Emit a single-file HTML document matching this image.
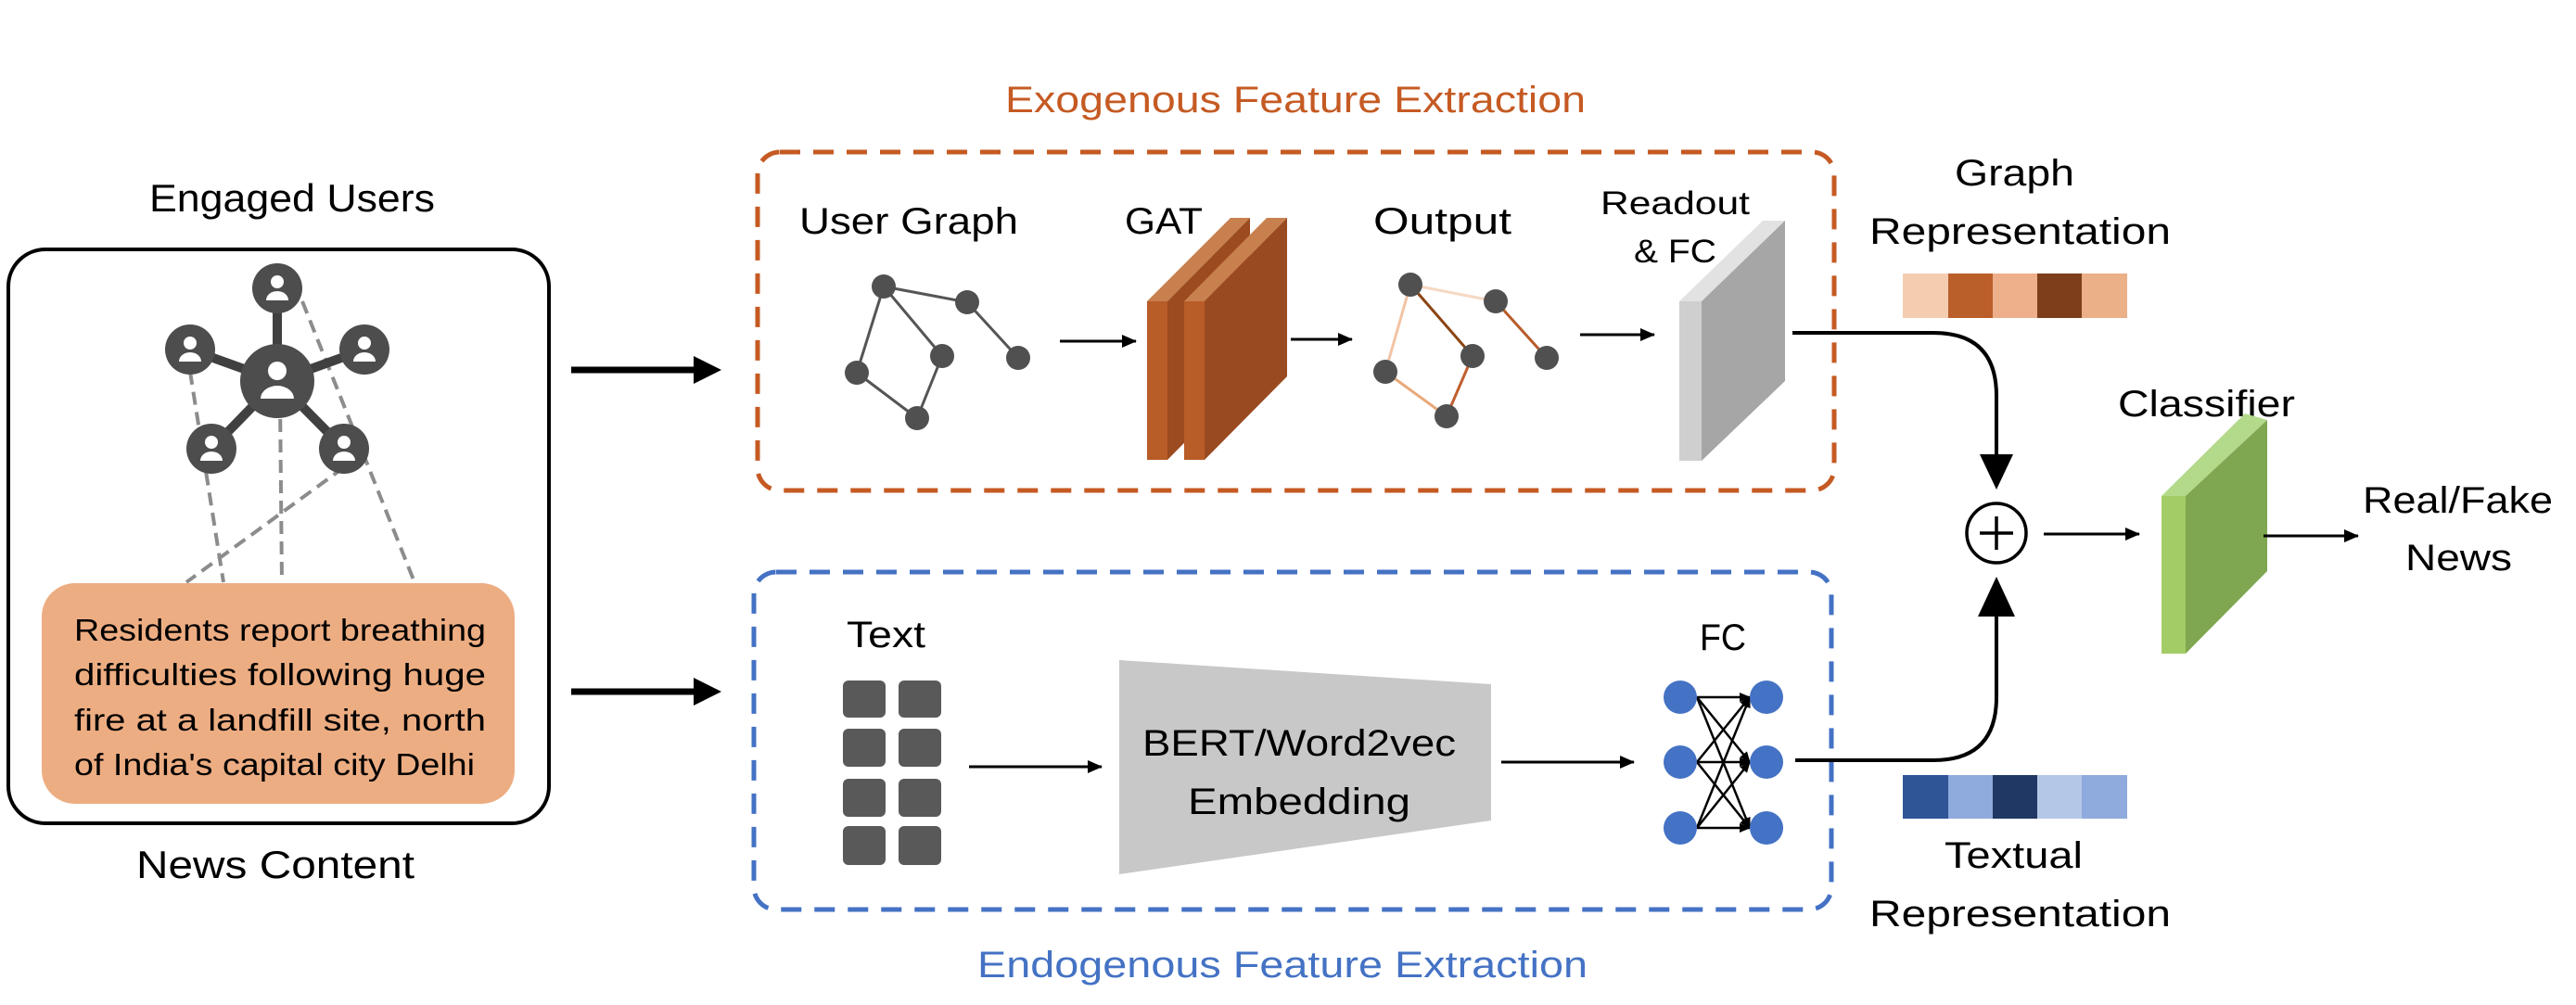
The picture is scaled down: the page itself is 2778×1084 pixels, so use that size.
<!DOCTYPE html>
<html><head><meta charset="utf-8"><style>
html,body{margin:0;padding:0;background:#fff;}
svg{display:block;}
text{font-family:"Liberation Sans",sans-serif;}
</style></head><body>
<svg width="2778" height="1084" viewBox="0 0 2778 1084" xmlns="http://www.w3.org/2000/svg">
<defs>
<marker id="ah" markerWidth="16" markerHeight="14" refX="15" refY="7" orient="auto" markerUnits="userSpaceOnUse" viewBox="0 0 16 14"><path d="M0,0 L16,7 L0,14z" fill="#000"/></marker>
<marker id="ahs" markerWidth="12" markerHeight="10" refX="11" refY="5" orient="auto" markerUnits="userSpaceOnUse" viewBox="0 0 12 10"><path d="M0,0 L12,5 L0,10z" fill="#000"/></marker>
</defs>
<rect width="2778" height="1084" fill="#fff"/>

<text x="1084" y="121" font-size="40" fill="#C55A23" textLength="626" lengthAdjust="spacingAndGlyphs">Exogenous Feature Extraction</text>
<text x="1054" y="1054" font-size="40" fill="#4472C4" textLength="658" lengthAdjust="spacingAndGlyphs">Endogenous Feature Extraction</text>

<text x="161" y="228" font-size="42" textLength="308" lengthAdjust="spacingAndGlyphs">Engaged Users</text>
<rect x="9" y="269" width="583" height="619" rx="40" fill="none" stroke="#000" stroke-width="4"/>
<g stroke="#8c8c8c" stroke-width="4" stroke-dasharray="14,8" fill="none">
<line x1="205" y1="401" x2="241" y2="628"/>
<line x1="302" y1="430" x2="304" y2="628"/>
<line x1="326" y1="325" x2="447" y2="628"/>
<line x1="371" y1="504" x2="201" y2="628"/>
</g>
<g stroke="#404040" stroke-width="10">
<line x1="299" y1="411" x2="299" y2="311"/>
<line x1="299" y1="411" x2="205" y2="377"/>
<line x1="299" y1="411" x2="393" y2="377"/>
<line x1="299" y1="411" x2="228" y2="484"/>
<line x1="299" y1="411" x2="371" y2="484"/>
</g>
<g fill="#4d4d4d">
<circle cx="299" cy="411" r="40"/>
<circle cx="299" cy="311" r="27"/>
<circle cx="205" cy="377" r="27"/>
<circle cx="393" cy="377" r="27"/>
<circle cx="228" cy="484" r="27"/>
<circle cx="371" cy="484" r="27"/>
</g>
<g fill="#fff">
<circle cx="299" cy="400" r="10"/><path d="M281,430 a18,14 0 0 1 36,0z"/>
<circle cx="299" cy="304" r="7"/><path d="M287,324 a12,10 0 0 1 24,0z"/>
<circle cx="205" cy="370" r="7"/><path d="M193,390 a12,10 0 0 1 24,0z"/>
<circle cx="393" cy="370" r="7"/><path d="M381,390 a12,10 0 0 1 24,0z"/>
<circle cx="228" cy="477" r="7"/><path d="M216,497 a12,10 0 0 1 24,0z"/>
<circle cx="371" cy="477" r="7"/><path d="M359,497 a12,10 0 0 1 24,0z"/>
</g>
<rect x="45" y="629" width="510" height="238" rx="36" fill="#EDAD82"/>
<g font-size="33">
<text x="80" y="691" textLength="444" lengthAdjust="spacingAndGlyphs">Residents report breathing</text>
<text x="80" y="739" textLength="444" lengthAdjust="spacingAndGlyphs">difficulties  following  huge</text>
<text x="80" y="788" textLength="444" lengthAdjust="spacingAndGlyphs">fire at a landfill site, north</text>
<text x="80" y="836" textLength="432" lengthAdjust="spacingAndGlyphs">of India's capital city Delhi</text>
</g>
<text x="147" y="947" font-size="42" textLength="300" lengthAdjust="spacingAndGlyphs">News Content</text>

<line x1="616" y1="399" x2="752" y2="399" stroke="#000" stroke-width="7"/>
<path d="M748,384 L778,399 L748,414z" fill="#000"/>
<line x1="616" y1="746" x2="752" y2="746" stroke="#000" stroke-width="7"/>
<path d="M748,731 L778,746 L748,761z" fill="#000"/>

<rect x="817" y="164" width="1161" height="365" rx="24" fill="none" stroke="#C55A23" stroke-width="5" stroke-dasharray="22,14"/>
<rect x="813" y="617" width="1162" height="364" rx="24" fill="none" stroke="#4472C4" stroke-width="5" stroke-dasharray="22,14"/>

<text x="862" y="252" font-size="40" textLength="236" lengthAdjust="spacingAndGlyphs">User Graph</text>
<text x="1213" y="252" font-size="40" textLength="84" lengthAdjust="spacingAndGlyphs">GAT</text>
<g stroke="#555" stroke-width="3">
<line x1="953" y1="309" x2="1043" y2="326"/><line x1="953" y1="309" x2="1016" y2="384"/>
<line x1="1043" y1="326" x2="1098" y2="386"/><line x1="953" y1="309" x2="924" y2="402"/>
<line x1="924" y1="402" x2="989" y2="451"/><line x1="989" y1="451" x2="1016" y2="384"/>
</g>
<g fill="#505050">
<circle cx="953" cy="309" r="13"/><circle cx="1043" cy="326" r="13"/><circle cx="1016" cy="384" r="13"/>
<circle cx="1098" cy="386" r="13"/><circle cx="924" cy="402" r="13"/><circle cx="989" cy="451" r="13"/>
</g>
<line x1="1143" y1="368" x2="1225" y2="368" stroke="#000" stroke-width="3" marker-end="url(#ah)"/>
<path d="M1237,325 L1327,235 L1348,235 L1259,325z" fill="#C8804E"/>
<path d="M1259,325 L1348,235 L1348,406 L1259,496z" fill="#9C4A1F"/>
<rect x="1237" y="325" width="22" height="171" fill="#B85C28"/>
<path d="M1277,325 L1366,235 L1388,235 L1299,325z" fill="#C8804E"/>
<path d="M1299,325 L1388,235 L1388,406 L1299,496z" fill="#9A4A20"/>
<rect x="1277" y="325" width="22" height="171" fill="#B85C28"/>
<line x1="1392" y1="366" x2="1458" y2="366" stroke="#000" stroke-width="3" marker-end="url(#ah)"/>
<text x="1481" y="252" font-size="40" textLength="149" lengthAdjust="spacingAndGlyphs">Output</text>
<g stroke-width="3">
<line x1="1521" y1="307" x2="1613" y2="325" stroke="#F6D8C4"/>
<line x1="1521" y1="307" x2="1588" y2="384" stroke="#8B4513"/>
<line x1="1613" y1="325" x2="1668" y2="386" stroke="#B85C2A"/>
<line x1="1521" y1="307" x2="1494" y2="401" stroke="#F2C4A4"/>
<line x1="1494" y1="401" x2="1560" y2="449" stroke="#E8A878"/>
<line x1="1560" y1="449" x2="1588" y2="384" stroke="#C06030"/>
</g>
<g fill="#505050">
<circle cx="1521" cy="307" r="13"/><circle cx="1613" cy="325" r="13"/><circle cx="1588" cy="384" r="13"/>
<circle cx="1668" cy="386" r="13"/><circle cx="1494" cy="401" r="13"/><circle cx="1560" cy="449" r="13"/>
</g>
<line x1="1704" y1="361" x2="1784" y2="361" stroke="#000" stroke-width="3" marker-end="url(#ah)"/>
<text x="1726" y="231" font-size="35" textLength="161" lengthAdjust="spacingAndGlyphs">Readout</text>
<text x="1762" y="283" font-size="35" textLength="89" lengthAdjust="spacingAndGlyphs">&amp; FC</text>
<path d="M1811,325 L1901,238 L1925,238 L1835,325z" fill="#E2E2E2"/>
<path d="M1835,325 L1925,238 L1925,411 L1835,497z" fill="#A6A6A6"/>
<rect x="1811" y="325" width="24" height="172" fill="#CFCFCF"/>

<text x="913" y="698" font-size="40" textLength="85" lengthAdjust="spacingAndGlyphs">Text</text>
<g fill="#595959">
<rect x="909" y="734" width="46" height="40" rx="6"/><rect x="969" y="734" width="46" height="40" rx="6"/>
<rect x="909" y="786" width="46" height="41" rx="6"/><rect x="969" y="786" width="46" height="41" rx="6"/>
<rect x="909" y="840" width="46" height="41" rx="6"/><rect x="969" y="840" width="46" height="41" rx="6"/>
<rect x="909" y="891" width="46" height="42" rx="6"/><rect x="969" y="891" width="46" height="42" rx="6"/>
</g>
<line x1="1045" y1="827" x2="1188" y2="827" stroke="#000" stroke-width="3" marker-end="url(#ah)"/>
<path d="M1207,712 L1608,738 L1608,885 L1207,943z" fill="#C8C8C8"/>
<text x="1232" y="815" font-size="40" textLength="338" lengthAdjust="spacingAndGlyphs">BERT/Word2vec</text>
<text x="1281" y="878" font-size="40" textLength="240" lengthAdjust="spacingAndGlyphs">Embedding</text>
<line x1="1619" y1="822" x2="1762" y2="822" stroke="#000" stroke-width="3" marker-end="url(#ah)"/>
<text x="1833" y="701" font-size="40" textLength="50" lengthAdjust="spacingAndGlyphs">FC</text>
<g stroke="#000" stroke-width="2.5">
<line x1="1830" y1="752" x2="1887" y2="752" marker-end="url(#ahs)"/>
<line x1="1830" y1="752" x2="1887" y2="822" marker-end="url(#ahs)"/>
<line x1="1830" y1="752" x2="1887" y2="893" marker-end="url(#ahs)"/>
<line x1="1830" y1="822" x2="1887" y2="752" marker-end="url(#ahs)"/>
<line x1="1830" y1="822" x2="1887" y2="822" marker-end="url(#ahs)"/>
<line x1="1830" y1="822" x2="1887" y2="893" marker-end="url(#ahs)"/>
<line x1="1830" y1="893" x2="1887" y2="752" marker-end="url(#ahs)"/>
<line x1="1830" y1="893" x2="1887" y2="822" marker-end="url(#ahs)"/>
<line x1="1830" y1="893" x2="1887" y2="893" marker-end="url(#ahs)"/>
</g>
<g fill="#4472C4">
<circle cx="1812" cy="752" r="18"/><circle cx="1812" cy="822" r="18"/><circle cx="1812" cy="893" r="18"/>
<circle cx="1905" cy="752" r="18"/><circle cx="1905" cy="822" r="18"/><circle cx="1905" cy="893" r="18"/>
</g>

<text x="2108" y="200" font-size="40" textLength="129" lengthAdjust="spacingAndGlyphs">Graph</text>
<text x="2016" y="263" font-size="40" textLength="325" lengthAdjust="spacingAndGlyphs">Representation</text>
<rect x="2052" y="295" width="49" height="48" fill="#F4CDB0"/>
<rect x="2101" y="295" width="48" height="48" fill="#BA5E2A"/>
<rect x="2149" y="295" width="48" height="48" fill="#EDB08A"/>
<rect x="2197" y="295" width="48" height="48" fill="#7E3E1B"/>
<rect x="2245" y="295" width="49" height="48" fill="#EBB088"/>
<rect x="2052" y="836" width="49" height="47" fill="#2F5597"/>
<rect x="2101" y="836" width="48" height="47" fill="#8FAADC"/>
<rect x="2149" y="836" width="48" height="47" fill="#203864"/>
<rect x="2197" y="836" width="48" height="47" fill="#B4C7E7"/>
<rect x="2245" y="836" width="49" height="47" fill="#8FAADC"/>
<text x="2097" y="936" font-size="40" textLength="149" lengthAdjust="spacingAndGlyphs">Textual</text>
<text x="2016" y="999" font-size="40" textLength="325" lengthAdjust="spacingAndGlyphs">Representation</text>

<path d="M1933,359 L2085,359 Q2153,359 2153,427 L2153,495" fill="none" stroke="#000" stroke-width="4"/>
<path d="M2135,490 L2171,490 L2153,528z" fill="#000"/>
<path d="M1936,820 L2085,820 Q2153,820 2153,752 L2153,660" fill="none" stroke="#000" stroke-width="4"/>
<path d="M2133,665 L2173,665 L2153,622z" fill="#000"/>
<circle cx="2153" cy="575" r="32" fill="none" stroke="#000" stroke-width="3.5"/>
<line x1="2135" y1="575" x2="2171" y2="575" stroke="#000" stroke-width="3.5"/>
<line x1="2153" y1="557" x2="2153" y2="593" stroke="#000" stroke-width="3.5"/>
<line x1="2204" y1="576" x2="2307" y2="576" stroke="#000" stroke-width="3" marker-end="url(#ah)"/>

<text x="2284" y="449" font-size="40" textLength="191" lengthAdjust="spacingAndGlyphs">Classifier</text>
<path d="M2331,535 L2421,446 L2445,453 L2357,535z" fill="#B3D98A"/>
<path d="M2357,535 L2445,453 L2445,616 L2357,705z" fill="#7FA650"/>
<rect x="2331" y="535" width="26" height="170" fill="#A3CC66"/>
<line x1="2441" y1="578" x2="2543" y2="578" stroke="#000" stroke-width="3" marker-end="url(#ah)"/>
<text x="2548" y="553" font-size="40" textLength="205" lengthAdjust="spacingAndGlyphs">Real/Fake</text>
<text x="2594" y="615" font-size="40" textLength="115" lengthAdjust="spacingAndGlyphs">News</text>
</svg>
</body></html>
